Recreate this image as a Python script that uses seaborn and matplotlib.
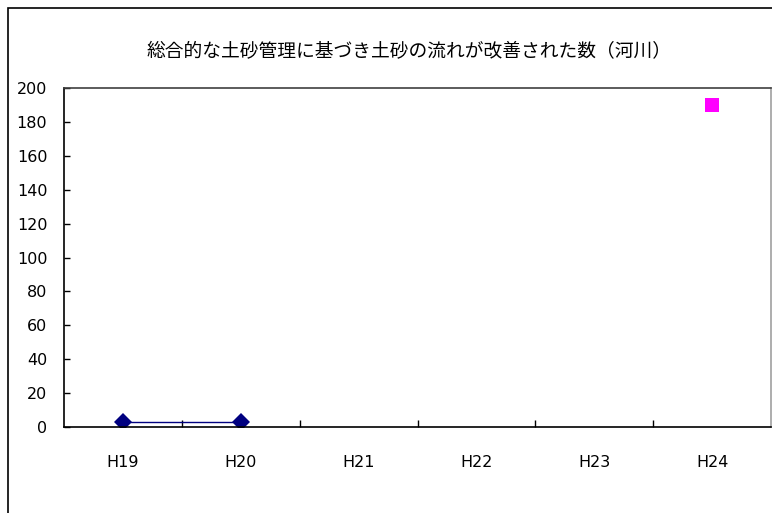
import matplotlib
matplotlib.use("Agg")

import matplotlib.pyplot as plt
import numpy as np
import pandas as pd
import seaborn as sns
from matplotlib.patches import Rectangle
from matplotlib.ticker import FixedLocator

# data
title = "総合的な土砂管理に基づき土砂の流れが改善された数（河川）"
years = ["H19", "H20", "H21", "H22", "H23", "H24"]
series_a = [3, 3, np.nan, np.nan, np.nan, np.nan]
series_b = [np.nan, np.nan, np.nan, np.nan, np.nan, 190]
y_ticks = [0, 20, 40, 60, 80, 100, 120, 140, 160, 180, 200]

df = pd.DataFrame({
    "year": years * 2,
    "value": series_a + series_b,
    "series": ["a"] * len(years) + ["b"] * len(years),
})

sns.set_style("white")
plt.rcParams["font.family"] = ["Noto Sans CJK JP", "DejaVu Sans"]
plt.rcParams["text.color"] = "black"
plt.rcParams["xtick.color"] = "black"
plt.rcParams["ytick.color"] = "black"

fig = plt.figure(figsize=(7.72, 5.13), dpi=100)
ax = fig.add_axes([64 / 772, 86 / 513, 707 / 772, 339 / 513])

sns.lineplot(
    data=df, x="year", y="value", hue="series", style="series",
    palette={"a": "#000080", "b": "#FF00FF"},
    markers={"a": "D", "b": "s"}, dashes=False,
    markersize=9.5, markeredgewidth=0, linewidth=1.0,
    legend=False, ax=ax,
)

ax.set_xlim(-0.5, 5.5)
ax.set_ylim(0, 200)
ax.set_yticks(y_ticks)
ax.set_xticks(range(len(years)))
ax.set_xticklabels(years)
ax.xaxis.set_minor_locator(FixedLocator(np.arange(0.5, len(years) - 1, 1.0)))
ax.set_xlabel("")
ax.set_ylabel("")

ax.tick_params(axis="y", direction="in", length=4, width=1, left=True,
               pad=12, labelsize=11.5, colors="black")
ax.tick_params(axis="x", which="major", length=0, pad=20, labelsize=11.5,
               labelcolor="black")
ax.tick_params(axis="x", which="minor", direction="in", length=5, width=1,
               bottom=True, color="black")
for lbl in ax.get_xticklabels() + ax.get_yticklabels():
    lbl.set_fontfamily("DejaVu Sans")

for side in ["left", "bottom"]:
    ax.spines[side].set_color("black")
    ax.spines[side].set_linewidth(1.2)
ax.spines["top"].set_color("#404040")
ax.spines["top"].set_linewidth(1.2)
ax.spines["right"].set_color("#a0a0a0")
ax.spines["right"].set_linewidth(1.2)

fig.text(409 / 772, 1 - 52 / 513, title, ha="center", va="center",
         fontsize=13.5, color="black")

# outer chart border (cropped on the right and bottom)
fig.patches.append(Rectangle((7.5 / 772, -0.1), 1.2, 1.1 - 8 / 513,
                             transform=fig.transFigure, fill=False,
                             edgecolor="black", linewidth=1.2))

fig.savefig("out.png", dpi=100)
